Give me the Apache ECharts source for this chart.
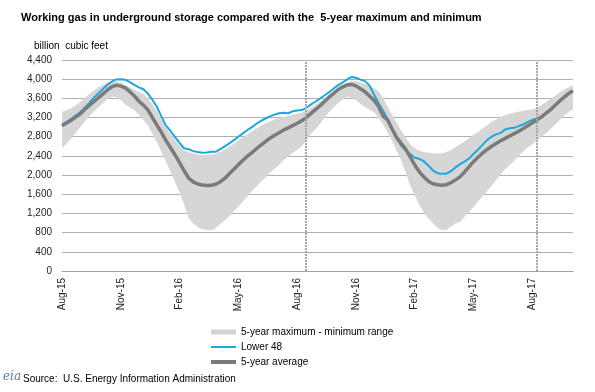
<!DOCTYPE html>
<html>
<head>
<meta charset="utf-8">
<script src="https://cdn.jsdelivr.net/npm/echarts@6/dist/echarts.min.js"></script>
<style>
html,body{margin:0;padding:0;background:#fff;}
#c{width:595px;height:392px;}
</style>
</head>
<body>
<div id="c"></div>
<script>
// Weekly tick labels (every 13 weeks starting Aug-15)
const tickLabels = ['Aug-15','Nov-15','Feb-16','May-16','Aug-16','Nov-16','Feb-17','May-17','Aug-17'];
const weeksPerTick = 13;
const dashedWeeks = [54, 105];

// 5-year average (billion cubic feet)
const avg5 = [3028,3085,3140,3210,3275,3370,3450,3530,3610,3690,3770,3840,3877,3855,3820,3740,3650,3540,3460,3360,
3200,3040,2890,2720,2570,2420,2260,2090,1940,1860,1815,1795,1782,1790,1808,1860,1930,2030,2120,2215,
2310,2395,2470,2550,2625,2700,2770,2830,2885,2940,2985,3030,3080,3130,3200,3280,3360,3440,3530,3620,
3700,3780,3835,3880,3891,3860,3800,3740,3650,3560,3430,3230,3150,2960,2780,2660,2540,2380,2210,2070,
1963,1870,1820,1800,1789,1800,1840,1900,1963,2060,2170,2280,2370,2460,2535,2600,2660,2715,2765,2815,
2865,2915,2970,3030,3090,3146,3210,3290,3360,3450,3540,3620,3700,3758];

// Lower 48 working gas
const lower48 = [3050,3110,3170,3240,3310,3400,3500,3610,3700,3790,3880,3950,3995,4000,3990,3940,3880,3830,3790,3700,
3570,3420,3220,3030,2920,2790,2670,2560,2540,2500,2480,2468,2470,2485,2485,2540,2600,2660,2730,2800,
2870,2940,3000,3070,3130,3180,3225,3260,3290,3300,3290,3330,3345,3355,3400,3470,3530,3590,3660,3724,
3800,3870,3930,3990,4047,4030,3990,3960,3870,3680,3500,3340,3170,2970,2790,2610,2520,2440,2360,2340,
2290,2200,2100,2040,2030,2030,2080,2160,2227,2280,2345,2440,2530,2630,2730,2800,2850,2880,2950,2975,
2985,3020,3060,3110,3150,3181];

// 5-year maximum
const max5 = [3320,3350,3390,3450,3520,3600,3690,3760,3830,3880,3930,3950,3950,3930,3880,3830,3780,3740,3690,3600,
3470,3330,3150,2980,2860,2730,2620,2520,2480,2450,2430,2420,2420,2430,2440,2480,2530,2590,2650,2720,
2790,2850,2910,2970,3030,3080,3120,3160,3190,3210,3230,3260,3285,3300,3340,3400,3460,3530,3600,3670,
3740,3810,3870,3920,3960,3960,3930,3900,3860,3810,3752,3600,3424,3250,3090,2930,2780,2650,2560,2510,
2480,2465,2455,2450,2450,2480,2520,2580,2640,2700,2770,2840,2900,2970,3040,3110,3160,3210,3250,3280,
3300,3320,3340,3355,3370,3400,3460,3520,3590,3650,3720,3780,3830,3877];

// 5-year minimum
const min5 = [2554,2660,2760,2880,3000,3110,3220,3320,3410,3500,3580,3630,3630,3560,3470,3410,3350,3260,3150,3040,
2860,2680,2480,2280,2070,1850,1650,1380,1110,990,920,870,855,849,890,980,1060,1140,1250,1340,
1450,1560,1670,1760,1860,1950,2050,2130,2210,2311,2390,2460,2530,2600,2720,2850,2950,3060,3190,3310,
3410,3500,3570,3630,3620,3560,3480,3420,3370,3310,3200,3060,2890,2710,2500,2310,2060,1780,1580,1380,
1230,1100,1000,900,849,860,930,990,1023,1130,1232,1340,1450,1560,1670,1780,1900,2010,2120,2206,
2300,2400,2490,2580,2640,2720,2790,2870,2960,3050,3140,3240,3310,3369];

const weeks = avg5.map((_, i) => 'W' + i);
const rangeData = max5.map((v, i) => v - min5[i]);
const FONT = 'Liberation Sans, Arial, sans-serif';

const legendBase = {orient: 'vertical', left: 211, itemWidth: 25, padding: 0,
  textStyle: {fontSize: 10, color: '#000', fontFamily: FONT}};

const chart = echarts.init(document.getElementById('c'), null, {renderer: 'canvas'});
chart.setOption({
  animation: false,
  backgroundColor: '#ffffff',
  textStyle: {fontFamily: FONT},
  title: [
    {text: 'Working gas in underground storage compared with the  5-year maximum and minimum',
     left: 16, top: 7, textStyle: {fontSize: 11, fontWeight: 'bold', color: '#000', fontFamily: FONT}},
    {text: 'billion  cubic feet', left: 29, top: 36,
     textStyle: {fontSize: 10, fontWeight: 'normal', color: '#000', fontFamily: FONT}}
  ],
  grid: {left: 62, right: 22, top: 60, bottom: 121},
  legend: [
    Object.assign({}, legendBase, {top: 327, itemHeight: 5,
      data: [{name: '5-year maximum - minimum range', icon: 'rect', itemStyle: {color: '#d2d2d2'}}]}),
    Object.assign({}, legendBase, {top: 342, itemHeight: 2,
      data: [{name: 'Lower 48', icon: 'rect', itemStyle: {color: '#1da7dc'}}]}),
    Object.assign({}, legendBase, {top: 357, itemHeight: 4,
      data: [{name: '5-year average', icon: 'rect', itemStyle: {color: '#7b7b7b'}}]})
  ],
  xAxis: {
    type: 'category', data: weeks, boundaryGap: false,
    axisLine: {show: true, lineStyle: {color: '#a0a0a0'}},
    axisTick: {show: false},
    splitLine: {show: false},
    axisLabel: {
      rotate: 90, fontSize: 10, color: '#222', margin: 7, interval: weeksPerTick - 1,
      formatter: (v, i) => (i % weeksPerTick === 0 && tickLabels[i / weeksPerTick]) ? tickLabels[i / weeksPerTick] : ''
    }
  },
  yAxis: {
    type: 'value', min: 0, max: 4400, interval: 400,
    axisLine: {show: false}, axisTick: {show: false},
    splitLine: {lineStyle: {color: '#b0b0b0', width: 1}},
    axisLabel: {fontSize: 10, color: '#222', margin: 10, formatter: v => v.toLocaleString('en-US')}
  },
  series: [
    {name: 'minbase', type: 'line', stack: 'band', data: min5, symbol: 'none',
     lineStyle: {width: 0, opacity: 0}, silent: true},
    {name: '5-year maximum - minimum range', type: 'line', stack: 'band', data: rangeData, symbol: 'none',
     lineStyle: {width: 0, opacity: 0}, areaStyle: {color: '#d6d6d6', opacity: 1}, itemStyle: {color: '#d2d2d2'}, silent: true},
    {name: 'Lower 48', type: 'line', data: lower48, symbol: 'none',
     lineStyle: {color: '#1da7dc', width: 2}, itemStyle: {color: '#1da7dc'}},
    {name: '5-year average', type: 'line', data: avg5, symbol: 'none',
     lineStyle: {color: '#7b7b7b', width: 3.5}, itemStyle: {color: '#7b7b7b'},
     markLine: {symbol: ['none', 'none'], silent: true, label: {show: false},
       lineStyle: {color: '#a8a8a8', type: [2, 1], width: 2},
       data: dashedWeeks.map(w => ({xAxis: w}))}}
  ],
  graphic: [
    {type: 'text', left: 3, top: 371, style: {text: 'eia', font: 'italic 12px "DejaVu Serif", serif', fill: '#5b7f95'}},
    {type: 'text', left: 23, top: 374, style: {text: 'Source:  U.S. Energy Information Administration', font: '10px "Liberation Sans", Arial, sans-serif', fill: '#000'}}
  ]
});
</script>
</body>
</html>
